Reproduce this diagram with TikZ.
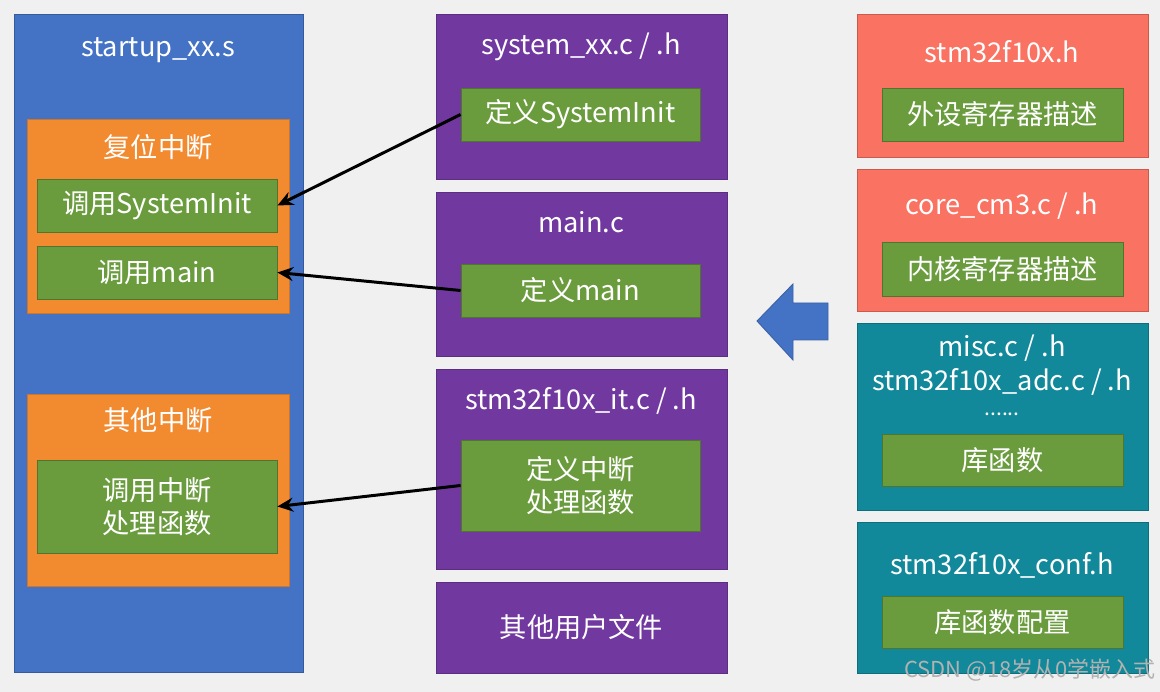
\documentclass[tikz,border=0pt]{standalone}
\usepackage{fontspec}
\setmainfont{Noto Sans CJK SC}
\usepackage{tikz}
\usetikzlibrary{arrows.meta}

\definecolor{bgray}{HTML}{F0F0F0}
\definecolor{fileblue}{HTML}{4472C4}
\definecolor{irqorange}{HTML}{F28A30}
\definecolor{fngreen}{HTML}{6A9C3E}
\definecolor{filepurple}{HTML}{7139A0}
\definecolor{regsalmon}{HTML}{FA7262}
\definecolor{libteal}{HTML}{12899A}

\begin{document}
\begin{tikzpicture}[x=0.02cm, y=-0.02cm,
  every node/.style={inner sep=0, text=white, font=\fontsize{15.5}{18.8}\selectfont, align=center},
  filebox/.style={fill=#1, draw=#1!80!black, line width=0.5pt, minimum width=5.82cm},
  irqbox/.style={fill=irqorange, draw=irqorange!85!black, line width=0.5pt, minimum width=5.24cm},
  fnbox/.style={fill=fngreen, draw=fngreen!75!black, line width=0.5pt, minimum width=4.8cm},
  call/.style={line width=1.7pt, -{Stealth[length=9pt, width=8pt]}}]
\useasboundingbox[fill=bgray] (0,0) rectangle (1160,692);

% startup file
\node[filebox=fileblue, minimum width=5.78cm, minimum height=13.18cm] (startup) at (158.5,343.5) {};
\node (startuptitle) at (158,50) {startup\_xx.s};
\node[irqbox, minimum height=3.88cm] (reset) at (158,216) {};
\node (resettitle) at (158,147) {复位中断};
\node[fnbox, minimum height=1.06cm] (callsys) at (157,205.5) {调用SystemInit};
\node[fnbox, minimum height=1.06cm] (callmain) at (157,272.5) {调用main};
\node[irqbox, minimum height=3.84cm] (otherirq) at (158,490) {};
\node (otherirqtitle) at (158,420) {其他中断};
\node[fnbox, minimum height=1.86cm] (callisr) at (157,506.5) {调用中断\\处理函数};

% user files
\node[filebox=filepurple, minimum height=3.3cm] (sysfile) at (581.5,96.5) {};
\node (systitle) at (581,47) {system\_xx.c / .h};
\node[fnbox, minimum width=4.78cm, minimum height=1.06cm] (defsys) at (580.5,114.5) {定义SystemInit};
\node[filebox=filepurple, minimum height=3.28cm] (mainfile) at (581.5,274) {};
\node (maintitle) at (581,222) {main.c};
\node[fnbox, minimum width=4.78cm, minimum height=1.06cm] (defmain) at (580.5,290.5) {定义main};
\node[filebox=filepurple, minimum height=4.0cm] (itfile) at (581.5,469) {};
\node (ittitle) at (581,401) {stm32f10x\_it.c / .h};
\node[fnbox, minimum width=4.78cm, minimum height=1.82cm] (defisr) at (580.5,485.5) {定义中断\\处理函数};
\node[filebox=filepurple, minimum height=1.82cm] (userfile) at (581.5,627.5) {其他用户文件};

% library files
\node[filebox=regsalmon, minimum height=2.86cm] (devh) at (1002.5,85.5) {};
\node (devhtitle) at (1002,52) {stm32f10x.h};
\node[fnbox, minimum width=4.82cm, minimum height=1.06cm] (devdesc) at (1002.5,114.5) {外设寄存器描述};
\node[filebox=regsalmon, minimum height=2.84cm] (core) at (1002.5,240) {};
\node (coretitle) at (1002,206) {core\_cm3.c / .h};
\node[fnbox, minimum width=4.82cm, minimum height=1.08cm] (coredesc) at (1002.5,269) {内核寄存器描述};
\node[filebox=libteal, minimum height=3.74cm] (misc) at (1002.5,416.5) {};
\node (misctitle) at (1002,348) {misc.c / .h};
\node (adctitle) at (1002,382) {stm32f10x\_adc.c / .h};
\node[font=\fontsize{12}{12}\selectfont] (dots) at (1002,414) {......};
\node[fnbox, minimum width=4.82cm, minimum height=1.04cm] (libfn) at (1002.5,460) {库函数};
\node[filebox=libteal, minimum height=3.02cm] (conf) at (1002.5,597.5) {};
\node (conftitle) at (1002,565) {stm32f10x\_conf.h};
\node[fnbox, minimum width=4.82cm, minimum height=1.04cm] (confdesc) at (1002.5,622) {库函数配置};

% calls
\draw[call] (defsys.west) -- (callsys.east);
\draw[call] (defmain.west) -- (callmain.east);
\draw[call] (defisr.west) -- (callisr.east);

% big arrow
\filldraw[fill=fileblue, draw=fileblue!85!black, line width=0.5pt]
  (828,303) -- (793,303) -- (793,284) -- (757,321) -- (793,360) -- (793,340) -- (828,340) -- cycle;

\node[text=white!70!black, font=\fontsize{12.5}{14}\selectfont] (mark) at (1030,670) {CSDN @18岁从0学嵌入式};
\end{tikzpicture}
\end{document}
